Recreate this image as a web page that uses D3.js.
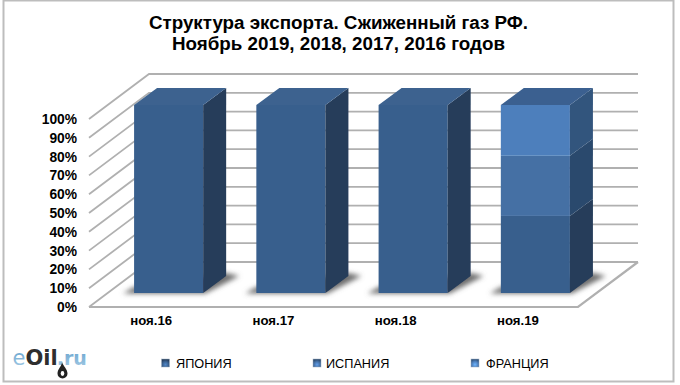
<!DOCTYPE html>
<html>
<head>
<meta charset="utf-8">
<script src="https://cdn.jsdelivr.net/npm/d3@7/dist/d3.min.js"></script>
<style>
body { margin: 0; background: #fff; }
text { font-family: "Liberation Sans", Arial, sans-serif; fill: #000; }
</style>
</head>
<body>
<div id="viz"></div>
<script>
const categories = ["ноя.16", "ноя.17", "ноя.18", "ноя.19"]
const seriesNames = ["ЯПОНИЯ", "ИСПАНИЯ", "ФРАНЦИЯ"]
const japan = [100, 100, 100, 41]
const spain = [0, 0, 0, 32]
const france = [0, 0, 0, 27]
const yTicks = [0, 10, 20, 30, 40, 50, 60, 70, 80, 90, 100]
const titleLines = ["Структура экспорта. Сжиженный газ РФ.", "Ноябрь 2019, 2018, 2017, 2016 годов"]

const width = 680, height = 385
// depth of the 3d box and of the bars inside it
const wallDx = 60, wallDy = -45
const insetDx = 18.5, insetDy = -14
const barDx = 23, barDy = -17

const colors = [
    {front: "#385f8d", side: "#253c5a", top: "#3c628f"},
    {front: "#446fa4", side: "#2c4a6d", top: "#3f6899"},
    {front: "#4d7fbc", side: "#31547d", top: "#3b6090"}
]

const svg = d3.select("#viz").append("svg")
    .attr("width", width)
    .attr("height", height)
    .style("display", "block")

const defs = svg.append("defs")
defs.append("filter").attr("id", "blur").attr("x", "-30%").attr("y", "-60%").attr("width", "160%").attr("height", "220%")
    .append("feGaussianBlur").attr("stdDeviation", 2.6)
defs.append("filter").attr("id", "soft").attr("x", "-10%").attr("y", "-10%").attr("width", "120%").attr("height", "120%")
    .append("feGaussianBlur").attr("stdDeviation", 0.45)

colors.forEach((c, i) => {
    const g = defs.append("radialGradient").attr("id", "key" + i).attr("cx", "50%").attr("cy", "70%").attr("r", "65%")
    g.append("stop").attr("offset", "0%").attr("stop-color", d3.color(c.front).brighter(1))
    g.append("stop").attr("offset", "60%").attr("stop-color", c.front)
    g.append("stop").attr("offset", "100%").attr("stop-color", c.side)
})

const logoBlue = defs.append("linearGradient").attr("id", "logoBlue").attr("x1", 0).attr("y1", 0).attr("x2", 0).attr("y2", 1)
logoBlue.append("stop").attr("offset", "0%").attr("stop-color", "#5d9bc9")
logoBlue.append("stop").attr("offset", "100%").attr("stop-color", "#a6cde6")

// frame
svg.append("rect")
    .attr("x", 3.5).attr("y", 0.5)
    .attr("width", 670).attr("height", 381)
    .attr("fill", "#fff")
    .attr("stroke", "#bdbdbd")
    .attr("stroke-width", 2)

svg.selectAll(".title")
    .data(titleLines)
    .enter()
    .append("text")
    .attr("class", "title")
    .attr("x", 338.5)
    .attr("y", (d, i) => 29 + i * 21)
    .attr("text-anchor", "middle")
    .attr("font-weight", "bold")
    .attr("font-size", 18.8)
    .text(d => d)

const x = d3.scaleBand().domain(categories).range([89, 578]).paddingInner(0.435).paddingOuter(0.2175)
const y = d3.scaleLinear().domain([0, 100]).range([307, 119])

const poly = (pts) => pts.map(p => p.join(",")).join(" ")

// gridlines on the side and back walls
const grid = svg.append("g").attr("fill", "none").attr("stroke", "#b0b0b0").attr("stroke-width", 1.8)
grid.selectAll(".wall")
    .data(yTicks)
    .enter()
    .append("polyline")
    .attr("points", d => poly([
        [x.range()[0], y(d)],
        [x.range()[0] + wallDx, y(d) + wallDy],
        [x.range()[1] + wallDx, y(d) + wallDy]
    ]))

// floor edges
grid.append("polyline")
    .attr("stroke-width", 2.2)
    .attr("points", poly([
        [x.range()[0], y(0)],
        [x.range()[1], y(0)],
        [x.range()[1] + wallDx, y(0) + wallDy]
    ]))

const stacks = categories.map((c, i) => {
    let sum = 0
    return [japan[i], spain[i], france[i]].map((v, s) => {
        const seg = {cat: c, s: s, y0: sum, y1: sum + v}
        sum += v
        return seg
    }).filter(d => d.y1 > d.y0)
})

const barLeft = c => x(c) + insetDx
const barRight = c => barLeft(c) + x.bandwidth()
const barY = v => y(v) + insetDy

// shadows on the floor
svg.append("g").selectAll("polygon")
    .data(categories)
    .enter()
    .append("polygon")
    .attr("fill", "#6e6e6e")
    .attr("filter", "url(#blur)")
    .attr("points", c => poly([
        [barLeft(c) - 11, barY(0) + 0.5],
        [barRight(c) + 2, barY(0) + 0.5],
        [barRight(c) + barDx + 13, barY(0) + barDy],
        [barRight(c) + barDx, barY(0) + barDy - 3],
        [barLeft(c), barY(0) - 6]
    ]))

const bars = svg.append("g").attr("filter", "url(#soft)")
stacks.flat().forEach(d => {
    const c = colors[d.s]
    const l = barLeft(d.cat), r = barRight(d.cat)
    const g = bars.append("g")
    g.append("rect")
        .attr("x", l)
        .attr("y", barY(d.y1))
        .attr("width", x.bandwidth())
        .attr("height", barY(d.y0) - barY(d.y1))
        .attr("fill", c.front)
    g.append("polygon")
        .attr("fill", c.side)
        .attr("points", poly([
            [r, barY(d.y0)],
            [r + barDx, barY(d.y0) + barDy],
            [r + barDx, barY(d.y1) + barDy],
            [r, barY(d.y1)]
        ]))
})
// top faces only on the last segment of each stack
stacks.forEach(stack => {
    const d = stack[stack.length - 1]
    const l = barLeft(d.cat), r = barRight(d.cat)
    bars.append("polygon")
        .attr("fill", colors[d.s].top)
        .attr("points", poly([
            [l, barY(d.y1)],
            [l + barDx, barY(d.y1) + barDy],
            [r + barDx, barY(d.y1) + barDy],
            [r, barY(d.y1)]
        ]))
})

// axes
const yAxis = svg.append("g")
    .attr("transform", `translate(${x.range()[0]},0)`)
    .call(d3.axisLeft(y).tickValues(yTicks).tickSize(0).tickPadding(12).tickFormat(d => d + "%"))
yAxis.select(".domain").remove()
yAxis.selectAll("text")
    .attr("font-size", 13.8)
    .attr("font-weight", "bold")
    .style("font-family", '"Liberation Sans", Arial, sans-serif')

const xAxis = svg.append("g")
    .attr("transform", `translate(1,${y(0)})`)
    .call(d3.axisBottom(x).tickSize(0).tickPadding(9))
xAxis.select(".domain").remove()
xAxis.selectAll("text")
    .attr("font-size", 13.2)
    .attr("font-weight", "bold")
    .style("font-family", '"Liberation Sans", Arial, sans-serif')

// legend
const legendMarkX = [161.5, 313, 471]
const legendTextX = [176, 326, 486]
const legend = svg.append("g")
seriesNames.forEach((name, i) => {
    legend.append("rect")
        .attr("x", legendMarkX[i])
        .attr("y", 359)
        .attr("width", 8)
        .attr("height", 8)
        .attr("fill", `url(#key${i})`)
        .attr("stroke", "#9fb1c4")
        .attr("stroke-width", 0.5)
    legend.append("text")
        .attr("x", legendTextX[i])
        .attr("y", 367.5)
        .attr("font-size", 12.7)
        .text(name)
})

// logo
const logo = svg.append("g").style("font-family", '"DejaVu Sans", sans-serif')
const logoText = logo.append("text")
    .attr("x", 12.5)
    .attr("y", 364.5)
    .attr("font-size", 21)
    .attr("font-weight", "bold")
    .style("font-family", '"DejaVu Sans", sans-serif')
logoText.append("tspan").attr("font-weight", "normal").style("fill", "url(#logoBlue)").text("e")
logoText.append("tspan").style("fill", "#2e2e2e").text("Oil")
logoText.append("tspan").attr("font-size", 19).attr("dx", -1).style("fill", "url(#logoBlue)").text(".ru")
logo.append("path")
    .attr("d", "M62 362 C62 366 57.5 369 57.5 373.5 A5 5 0 0 0 67.5 373.5 C67.5 369 63 366 62 362 Z")
    .attr("fill", "#222")
logo.append("ellipse")
    .attr("cx", 62.5).attr("cy", 373.5).attr("rx", 1.8).attr("ry", 2.4)
    .attr("fill", "#fff")
</script>
</body>
</html>
